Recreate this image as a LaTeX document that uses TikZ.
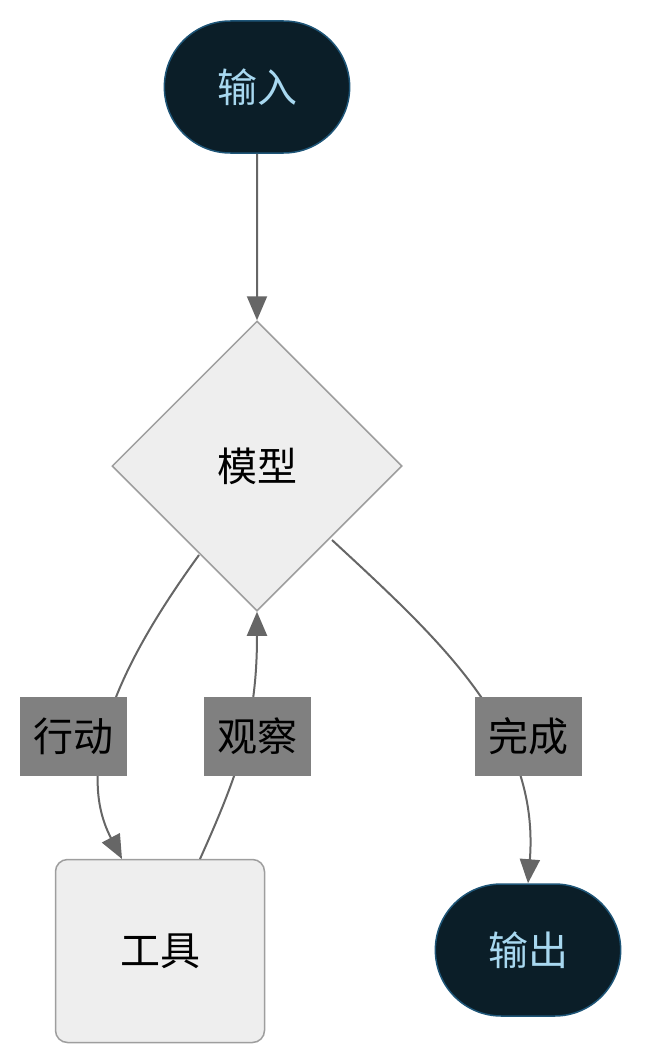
\documentclass[tikz,border=0pt]{standalone}
\usepackage{fontspec}
\newfontfamily\cjk{Noto Sans CJK SC}
\usetikzlibrary{shapes.geometric,arrows.meta}
\definecolor{darkfill}{HTML}{0B1E28}
\definecolor{darkedge}{HTML}{1E5577}
\definecolor{lighttext}{HTML}{A8D8F0}
\definecolor{boxfill}{HTML}{EEEEEE}
\definecolor{boxedge}{HTML}{9E9E9E}
\definecolor{edgecol}{HTML}{666666}
\definecolor{labfill}{HTML}{808080}
\tikzset{
  term/.style={rounded rectangle, fill=darkfill, draw=darkedge, line width=1.5pt, minimum width=192pt, minimum height=132pt, text=lighttext, font=\cjk\fontsize{40}{40}\selectfont},
  dia/.style={diamond, aspect=1, fill=boxfill, draw=boxedge, line width=1.5pt, minimum width=290pt, minimum height=290pt, inner sep=0pt, font=\cjk\fontsize{40}{40}\selectfont},
  tool/.style={rectangle, rounded corners=12pt, fill=boxfill, draw=boxedge, line width=1.5pt, minimum width=209pt, minimum height=183pt, font=\cjk\fontsize{40}{40}\selectfont},
  lab/.style={fill=labfill, minimum width=107pt, minimum height=79pt, inner sep=0pt, font=\cjk\fontsize{40}{40}\selectfont},
  conn/.style={draw=edgecol, line width=2pt, -{Triangle[length=24pt,width=20pt]}}
}
\usetikzlibrary{shapes.misc}
\begin{document}
\begin{tikzpicture}[x=1pt,y=-1pt]
\useasboundingbox (0,0) rectangle (649,1062);
\node[term] (in) at (257,87) {输入};
\node[dia] (m) at (257,466) {模型};
\node[tool] (t) at (160,951) {工具};
\node[term] (out) at (528,950) {输出};
\coordinate (m1) at (199,555);
\coordinate (m2) at (332,540);
\coordinate (t1) at (122,859);
\coordinate (t2) at (200,859);
\draw[conn] (in) -- (m.north);
\draw[conn] (m1) .. controls (130,650) and (70,760) .. (t1);
\draw[conn] (t2) .. controls (240,770) and (257,720) .. (m.south);
\draw[conn] (m2) .. controls (440,640) and (540,730) .. (out.north);
\node[lab] (l1) at (73,736) {行动};
\node[lab] (l2) at (257,736) {观察};
\node[lab] (l3) at (528,736) {完成};
\end{tikzpicture}
\end{document}
